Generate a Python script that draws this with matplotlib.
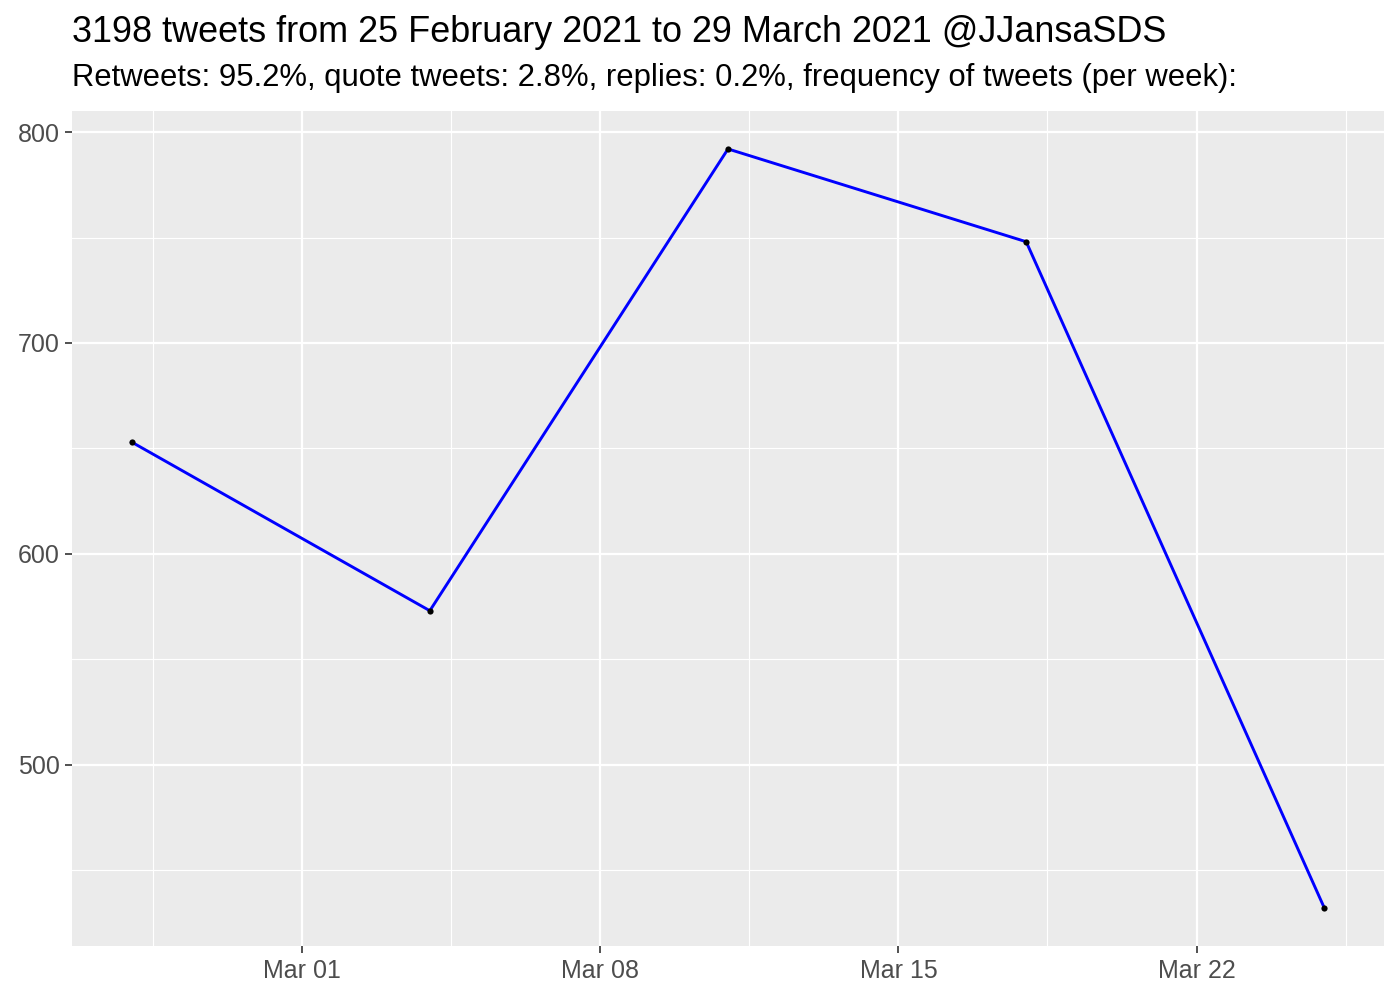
import matplotlib
matplotlib.use("Agg")
import matplotlib.pyplot as plt
import matplotlib.dates as mdates
import pandas as pd

plt.rcParams['font.family'] = ['Liberation Sans', 'DejaVu Sans']

# weekly tweet counts
week_start = ["2021-02-25", "2021-03-04", "2021-03-11", "2021-03-18", "2021-03-25"]
tweets_per_week = [653, 573, 792, 748, 432]

title = "3198 tweets from 25 February 2021 to 29 March 2021 @JJansaSDS"
subtitle = "Retweets: 95.2%, quote tweets: 2.8%, replies: 0.2%, frequency of tweets (per week):"

dates = pd.to_datetime(week_start)

fig = plt.figure(figsize=(14, 10), dpi=100)
ax = fig.add_axes([72/1400, 1 - 946/1000, (1384-72)/1400, (946-111)/1000])
ax.set_facecolor('#EBEBEB')
for s in ax.spines.values():
    s.set_visible(False)

ax.plot(dates, tweets_per_week, color='#0000FF', lw=2.1, zorder=3)
ax.scatter(dates, tweets_per_week, color='black', s=20, zorder=4, linewidths=0)

# ggplot-like 5% expansion
x0, x1 = mdates.date2num(dates.min()), mdates.date2num(dates.max())
dx = (x1 - x0) * 0.05
ax.set_xlim(x0 - dx, x1 + dx)
y0, y1 = min(tweets_per_week), max(tweets_per_week)
dy = (y1 - y0) * 0.05
ax.set_ylim(y0 - dy, y1 + dy)

ax.xaxis.set_major_locator(mdates.DayLocator(bymonthday=[1, 8, 15, 22]))
ax.xaxis.set_major_formatter(mdates.DateFormatter('%b %d'))
minor_x = pd.to_datetime(["2021-02-25 12:00", "2021-03-04 12:00", "2021-03-11 12:00",
                          "2021-03-18 12:00", "2021-03-25 12:00"])
ax.set_xticks(mdates.date2num(minor_x), minor=True)
ax.set_yticks([500, 600, 700, 800])
ax.set_yticks([450, 550, 650, 750], minor=True)

ax.grid(which='major', color='white', lw=1.6)
ax.grid(which='minor', color='white', lw=0.8)
ax.set_axisbelow(True)

ax.tick_params(which='major', length=5, width=1.2, color='#333333',
               labelsize=18, labelcolor='#4D4D4D', pad=4)
ax.tick_params(which='minor', length=0)

fig.text(72/1400, 1 - 33/1000, title, fontsize=25.9, va='center', ha='left')
fig.text(72/1400, 1 - 78/1000, subtitle, fontsize=22.3, va='center', ha='left')

fig.savefig('out.png', dpi=100)
